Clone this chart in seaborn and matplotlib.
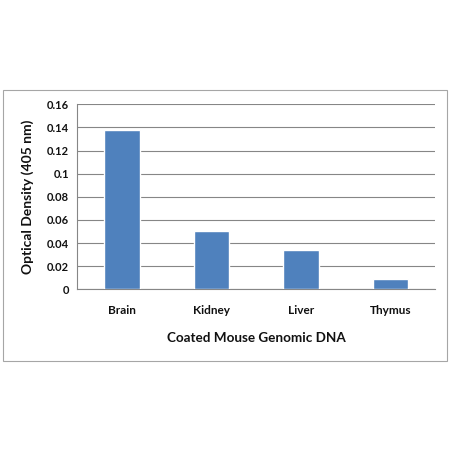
import matplotlib
matplotlib.use("Agg")
import matplotlib.pyplot as plt
import seaborn as sns
import pandas as pd
from matplotlib.patches import Rectangle

categories = ["Brain", "Kidney", "Liver", "Thymus"]
values = [0.138, 0.050, 0.034, 0.009]
yticks = [0, 0.02, 0.04, 0.06, 0.08, 0.1, 0.12, 0.14, 0.16]
ytick_labels = ["0", "0.02", "0.04", "0.06", "0.08", "0.1", "0.12", "0.14", "0.16"]

sns.set_style("white")
plt.rcParams['font.family'] = ['Lato', 'DejaVu Sans']

df = pd.DataFrame({"tissue": categories, "od": values})

fig = plt.figure(figsize=(4.5, 4.5), dpi=100)
fig.patches.append(Rectangle((3/450, 89/450), 444/450, 271/450, transform=fig.transFigure,
                             fill=False, edgecolor="#A6A6A6", linewidth=0.8, zorder=0))
ax = fig.add_axes([77.3/450, (450-289.3)/450, (435-77.3)/450, 185/450])

sns.barplot(data=df, x="tissue", y="od", color="#4F81BD", saturation=1, width=0.395, ax=ax, zorder=3)

ax.set_ylim(0, 0.16)
ax.set_xlim(-0.5, 3.5)
ax.set_yticks(yticks)
ax.set_yticklabels(ytick_labels, fontsize=8, fontweight="bold", color="#111111")
ax.set_xticks(range(len(categories)))
ax.set_xticklabels(categories, fontsize=8.5, fontweight="bold", color="#111111")
ax.set_xticks([-0.5, 0.5, 1.5, 2.5, 3.5], minor=True)
ax.tick_params(axis="x", which="major", length=0, pad=11)
ax.tick_params(axis="x", which="minor", length=4, color="#868686", width=0.8, direction="out")
ax.tick_params(axis="y", length=4, color="#868686", width=0.8, direction="out", pad=2)

ax.yaxis.grid(True, color="#868686", linewidth=0.8, zorder=0)
ax.set_axisbelow(True)
for s in ["top", "right"]:
    ax.spines[s].set_visible(False)
for s in ["left", "bottom"]:
    ax.spines[s].set_color("#868686")
    ax.spines[s].set_linewidth(0.8)

ax.set_xlabel("Coated Mouse Genomic DNA", fontsize=9.7, fontweight="bold", color="#111111", labelpad=12)
ax.set_ylabel("Optical Density (405 nm)", fontsize=10, fontweight="bold", color="#111111", labelpad=9)

fig.savefig("out.png", dpi=100)
